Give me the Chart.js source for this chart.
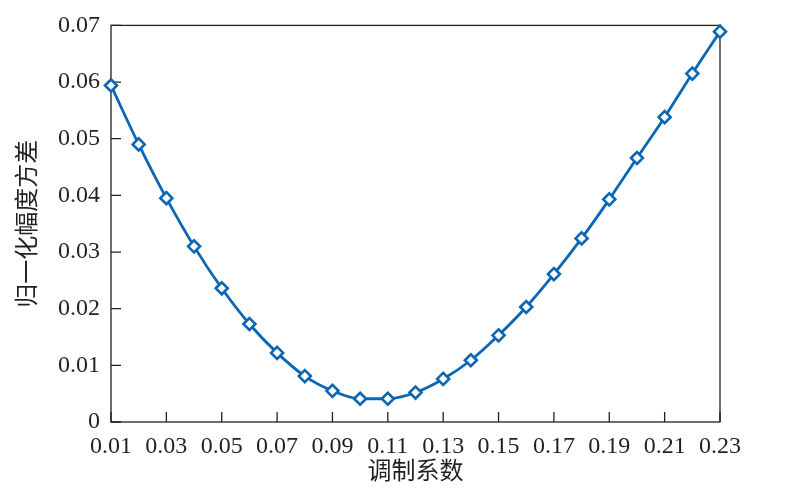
<!DOCTYPE html>
<html>
<head>
<meta charset="utf-8">
<script src="https://cdn.jsdelivr.net/npm/chart.js@4"></script>
<style>
  html, body { margin: 0; padding: 0; background: #fff; }
  #wrap { width: 800px; height: 491px; }
</style>
</head>
<body>
<div id="wrap"><canvas id="chart"></canvas></div>
<script>
const modCoef = [0.01, 0.02, 0.03, 0.04, 0.05, 0.06, 0.07, 0.08, 0.09, 0.10, 0.11, 0.12,
                 0.13, 0.14, 0.15, 0.16, 0.17, 0.18, 0.19, 0.20, 0.21, 0.22, 0.23];
const ampVariance = [0.0594, 0.0490, 0.0395, 0.0310, 0.0236, 0.0173, 0.0122, 0.0081, 0.0055, 0.0041, 0.0041, 0.0052,
                     0.0076, 0.0109, 0.0153, 0.0203, 0.0261, 0.0324, 0.0393, 0.0466, 0.0538, 0.0615, 0.0689];
const xTicks = [0.01, 0.03, 0.05, 0.07, 0.09, 0.11, 0.13, 0.15, 0.17, 0.19, 0.21, 0.23];
const yTicks = [0, 0.01, 0.02, 0.03, 0.04, 0.05, 0.06, 0.07];

const serif = "'Liberation Serif', 'Times New Roman', serif";
const cjk = "'Liberation Serif', 'Noto Sans CJK SC', serif";
const axisColor = '#231f20';

// frame + inward ticks
const frame = {
  id: 'frame',
  beforeDatasetsDraw(chart) {
    const {ctx, chartArea: a, scales} = chart;
    ctx.save();
    ctx.strokeStyle = axisColor;
    ctx.lineWidth = 1.3;
    ctx.strokeRect(a.left, a.top, a.right - a.left, a.bottom - a.top);
    ctx.beginPath();
    xTicks.forEach(v => {
      const x = scales.x.getPixelForValue(v);
      ctx.moveTo(x, a.bottom);
      ctx.lineTo(x, a.bottom - 10);
    });
    yTicks.forEach(v => {
      const y = scales.y.getPixelForValue(v);
      ctx.moveTo(a.left, y);
      ctx.lineTo(a.left + 10, y);
    });
    ctx.stroke();
    ctx.restore();
  }
};

new Chart(document.getElementById('chart'), {
  type: 'line',
  data: {
    datasets: [{
      data: modCoef.map((x, i) => ({x, y: ampVariance[i]})),
      borderColor: '#0b67b4',
      borderWidth: 2.8,
      pointStyle: 'rectRot',
      pointRadius: 6,
      pointBorderWidth: 2.6,
      pointBackgroundColor: '#fff',
      pointBorderColor: '#0b67b4',
      cubicInterpolationMode: 'monotone',
      clip: false
    }]
  },
  options: {
    responsive: true,
    maintainAspectRatio: false,
    animation: false,
    layout: { padding: { top: 25, right: 80, left: 0, bottom: 0 } },
    plugins: { legend: { display: false }, tooltip: { enabled: false } },
    scales: {
      x: {
        type: 'linear',
        min: 0.01, max: 0.23,
        afterBuildTicks: s => { s.ticks = xTicks.map(v => ({value: v})); },
        afterFit: s => { s.height = 69; },
        grid: { display: false, drawTicks: false },
        border: { display: false },
        ticks: {
          padding: 10,
          color: axisColor,
          font: { family: serif, size: 24 },
          maxRotation: 0,
          autoSkip: false,
          callback: v => v.toFixed(2)
        },
        title: {
          display: true,
          text: '调制系数',
          color: axisColor,
          font: { family: cjk, size: 24 },
          padding: { top: 0, bottom: 4 }
        }
      },
      y: {
        min: 0, max: 0.07,
        afterBuildTicks: s => { s.ticks = yTicks.map(v => ({value: v})); },
        afterFit: s => { s.width = 111; },
        grid: { display: false, drawTicks: false },
        border: { display: false },
        ticks: {
          padding: 11,
          color: axisColor,
          font: { family: serif, size: 24 },
          autoSkip: false,
          callback: v => v === 0 ? '0' : v.toFixed(2)
        },
        title: {
          display: true,
          text: '归一化幅度方差',
          color: axisColor,
          font: { family: cjk, size: 24 },
          padding: { top: 14, bottom: 0 }
        }
      }
    }
  },
  plugins: [frame]
});
</script>
</body>
</html>
